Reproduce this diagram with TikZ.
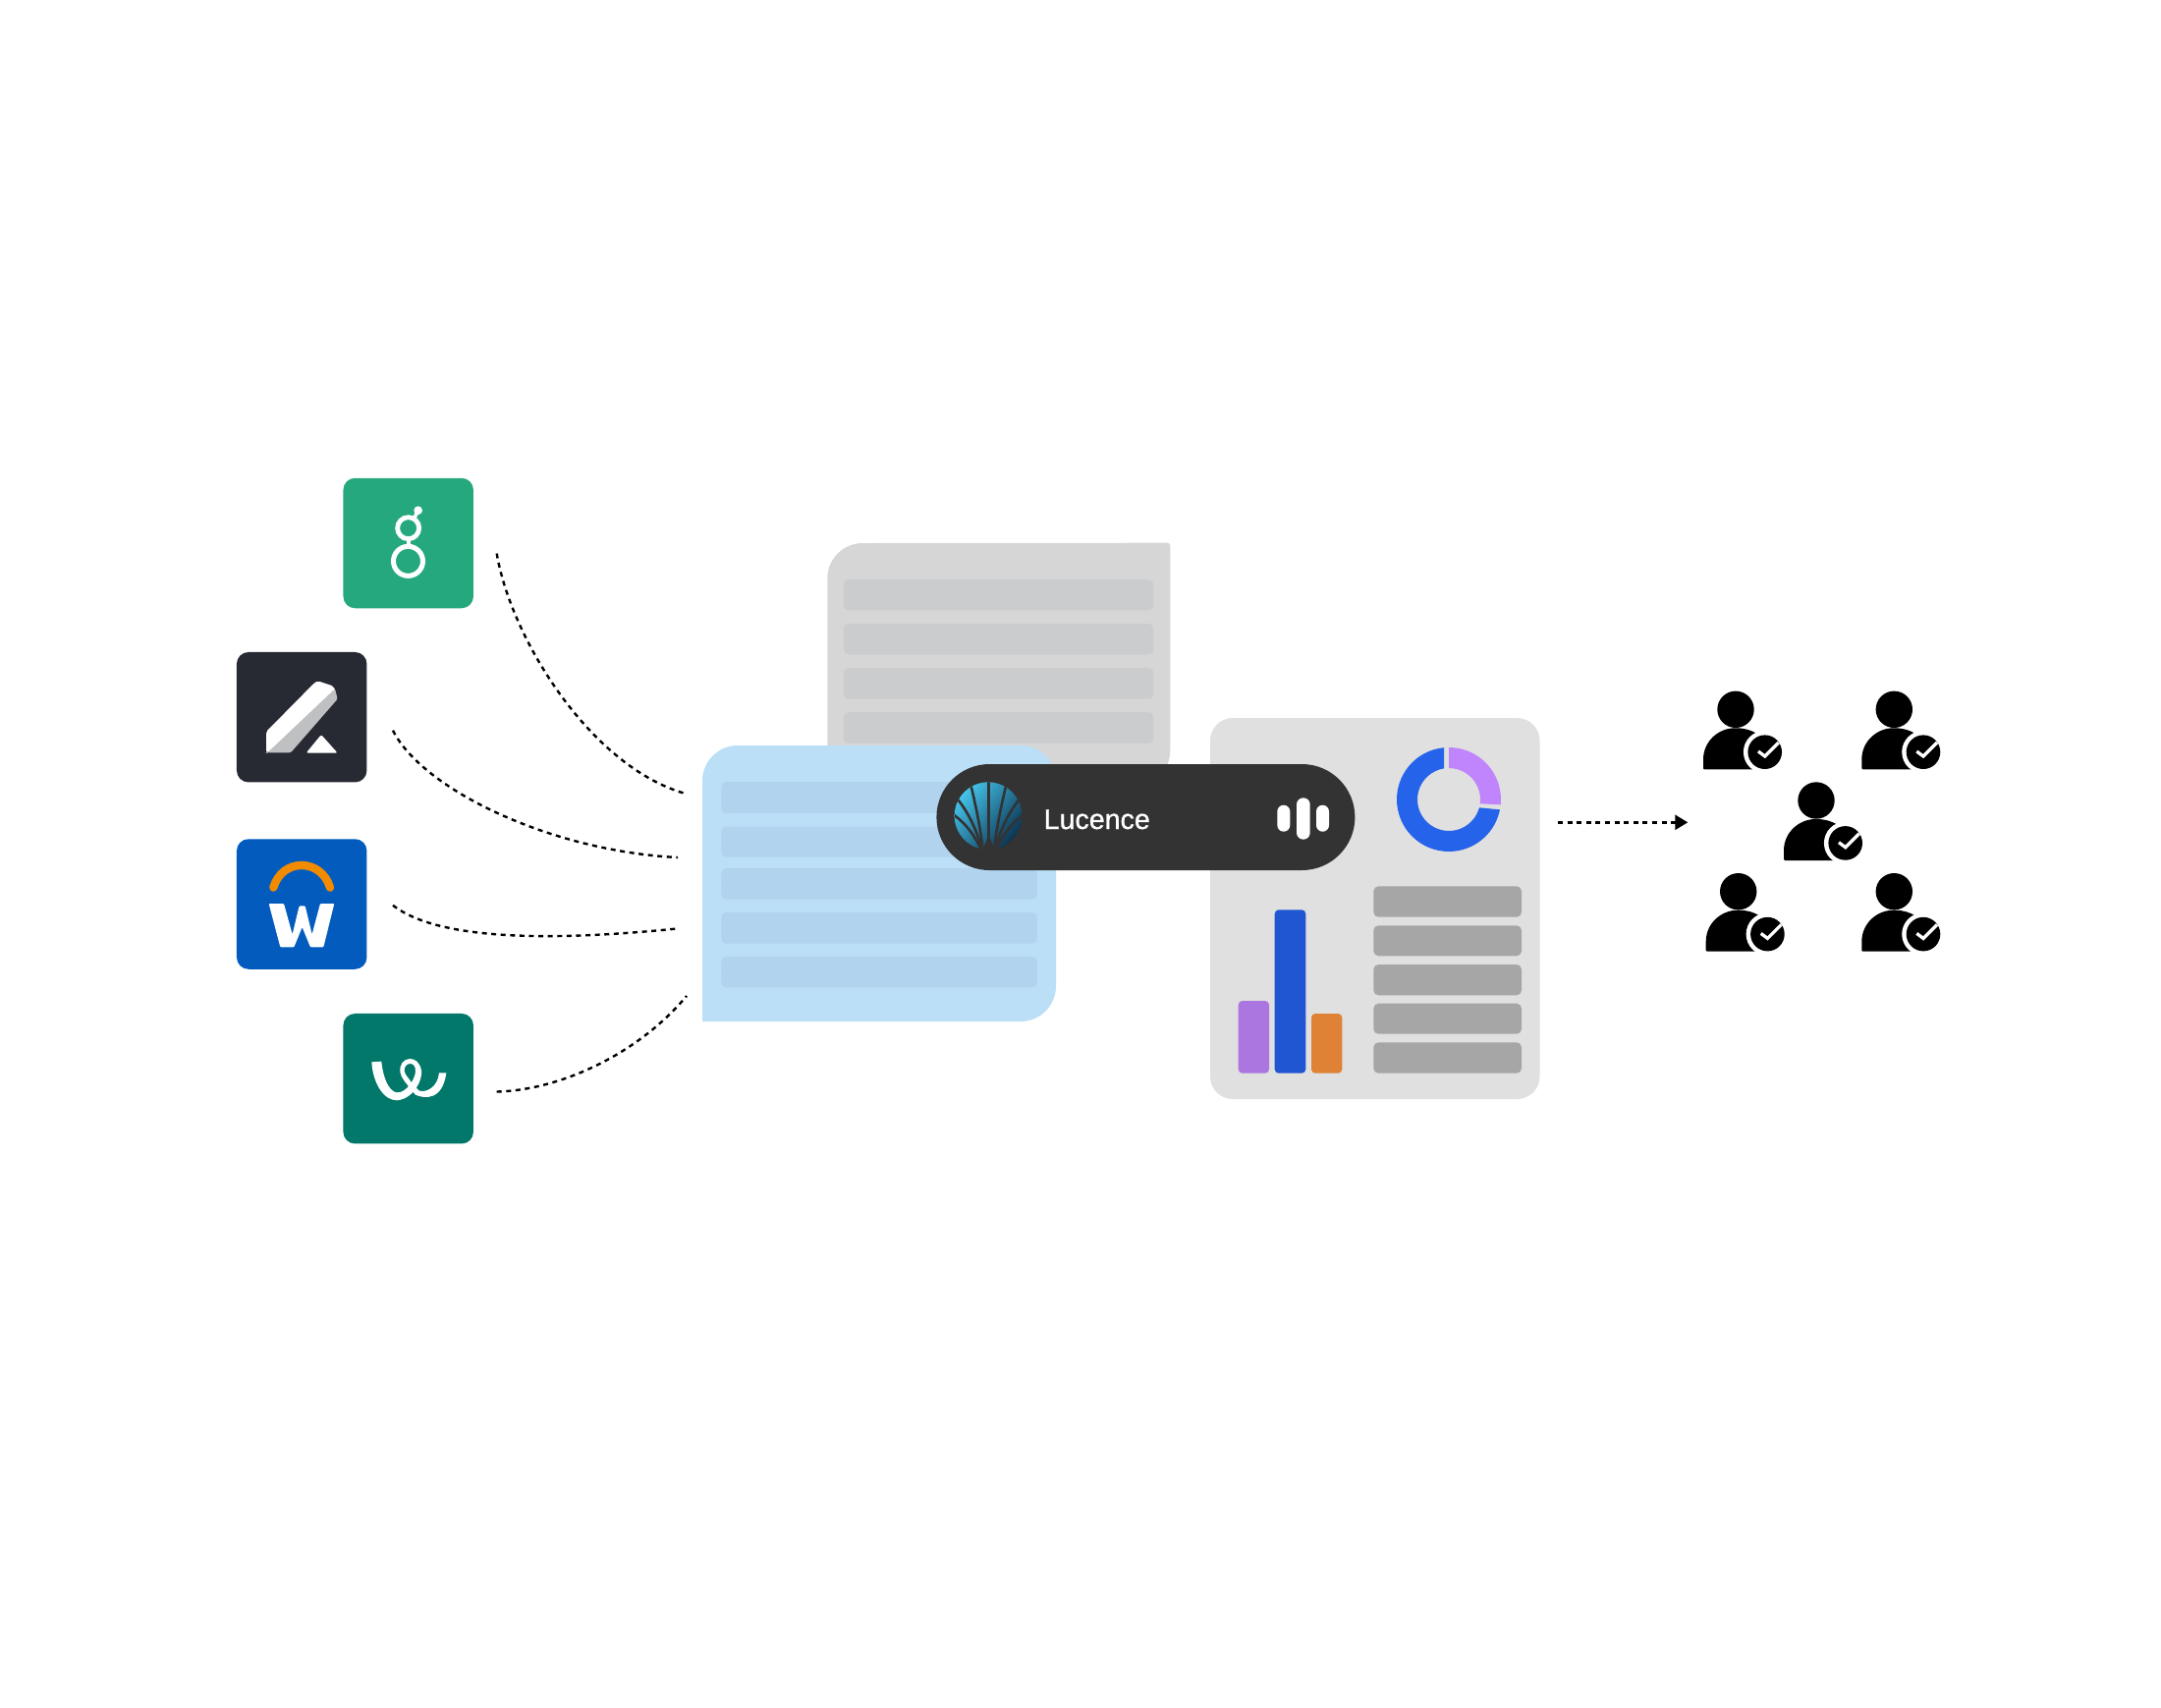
\documentclass[tikz,border=0pt]{standalone}
\usepackage{fontspec}
\setmainfont{Liberation Sans}
\newfontfamily\lucfont[FakeBold=0.9]{Liberation Sans}
\usetikzlibrary{arrows.meta}
\definecolor{cGreen}{HTML}{26A87E}
\definecolor{cInk}{HTML}{272933}
\definecolor{cBlue}{HTML}{035CBD}
\definecolor{cTeal}{HTML}{02786A}
\definecolor{cOrange}{HTML}{F38B00}
\definecolor{cGreySheet}{HTML}{D6D6D6}
\definecolor{cGreyRow}{HTML}{CBCCCE}
\definecolor{cSkySheet}{HTML}{BBDFF6}
\definecolor{cSkyRow}{HTML}{B1D3ED}
\definecolor{cPanel}{HTML}{E0E0E0}
\definecolor{cPanelRow}{HTML}{A6A6A6}
\definecolor{cPill}{HTML}{333333}
\definecolor{cBarP}{HTML}{AB76DF}
\definecolor{cBarB}{HTML}{2156D2}
\definecolor{cBarO}{HTML}{DF8235}
\definecolor{cDonutB}{HTML}{2563EB}
\definecolor{cDonutP}{HTML}{C084FC}
\definecolor{cPencil}{HTML}{BFC0C2}
\definecolor{cShellA}{HTML}{45C3EA}
\definecolor{cShellB}{HTML}{0B3350}
\tikzset{
  logobox/.style={rectangle,rounded corners=12pt,minimum width=132.5pt,minimum height=132.5pt,inner sep=0pt},
  rowbar/.style={rounded corners=5pt},
  flow/.style={line width=2.4pt,black,dash pattern=on 5pt off 4.6pt},
  zoomed/.style={x=0.3333pt,y=-0.3333pt},
}
\begin{document}
\begin{tikzpicture}[x=1pt,y=-1pt]
\useasboundingbox (0,0) rectangle (2200,1738);
\fill[white] (0,0) rectangle (2200,1738);

% logos
\node[logobox,fill=cGreen] (greenlogo) at (415.7,553) {};
\node[logobox,fill=cInk] (inklogo) at (307.2,730.2) {};
\node[logobox,fill=cBlue] (bluelogo) at (307.2,920.5) {};
\node[logobox,fill=cTeal] (teallogo) at (415.7,1098.2) {};

% g
\begin{scope}[xshift=349pt,yshift=-487pt,zoomed]
  \draw[white,line width=5pt] (199.5,253) circle (45);
  \draw[white,line width=4.8pt] (200,152) circle (33);
  \draw[white,line width=3.8pt] (200,180) -- (200,212);
  \draw[white,line width=3.6pt] (218,122) -- (230,98);
  \fill[white] (230,98) circle (13);
\end{scope}
% pencil
\begin{scope}[xshift=241pt,yshift=-664pt,zoomed]
  \fill[white,rounded corners=2pt] (90,243) -- (238,93) -- (248,88) -- (296,104) -- (303,125) -- (94,308) -- (90,307) -- cycle;
  \fill[cPencil,rounded corners=1.5pt] (300,112) -- (308,143) -- (165,307) -- (94,307) -- cycle;
  \fill[white,rounded corners=2pt] (212,308) -- (258,252) -- (308,308) -- cycle;
\end{scope}
% W
\begin{scope}[xshift=241pt,yshift=-854pt,zoomed]
  \draw[cOrange,line width=8.3pt,line cap=round] (112,149) .. controls (125,105) and (160,81) .. (198,81) .. controls (236,81) and (272,105) .. (285,149);
  \fill[white,rounded corners=1pt] (98,198) -- (144,198) -- (170,292) -- (191,205) -- (209,205) -- (230,292) -- (255,198) -- (298,198) -- (265,331) -- (225,331) -- (200,270) -- (175,331) -- (133,331) -- cycle;
\end{scope}
% teal ribbon
\begin{scope}[xshift=349pt,yshift=-1033pt,zoomed]
  \fill[white] (88,145) .. controls (92,210) and (125,262) .. (165,262)
    .. controls (215,258) and (245,200) .. (240,170)
    .. controls (235,145) and (220,135) .. (205,135)
    .. controls (185,135) and (172,155) .. (175,175)
    .. controls (178,195) and (195,210) .. (205,225)
    -- (222,245) .. controls (250,258) and (305,262) .. (316,178)
    -- (294,178) .. controls (290,222) and (255,240) .. (232,232)
    -- (208,205) .. controls (200,192) and (190,185) .. (188,172)
    .. controls (187,160) and (195,150) .. (205,150)
    .. controls (214,150) and (222,155) .. (222,172)
    .. controls (222,195) and (195,240) .. (165,238)
    .. controls (140,235) and (122,190) .. (118,143) -- cycle;
\end{scope}

% grey sheet
\fill[cGreySheet] (842.3,830) -- (842.3,589) arc[start angle=180,end angle=90,radius=36pt] -- (1188.3,552.7) arc[start angle=90,end angle=0,radius=3pt] -- (1191.3,764) arc[start angle=0,end angle=-90,radius=36pt] -- cycle;
\foreach \a/\b in {590/621.3,635/666.3,680/711.7,725/756.7}
  \fill[cGreyRow,rowbar] (858.9,\a) rectangle (1174.3,\b);

% blue sheet
\fill[cSkySheet] (715,1040) -- (715,795) arc[start angle=180,end angle=90,radius=36pt] -- (1039,759) arc[start angle=90,end angle=0,radius=36pt] -- (1075,1004) arc[start angle=0,end angle=-90,radius=36pt] -- cycle;
\foreach \a/\b in {796/828,841.7/872.7,884/915.7,929/960.7,974/1005.3}
  \fill[cSkyRow,rowbar] (734.4,\a) rectangle (1055.8,\b);

% dashboard panel
\fill[cPanel,rounded corners=23pt] (1232,731) rectangle (1567.5,1119);
\foreach \a/\b in {902.3/933.7,942.3/973.3,982/1013.3,1021.7/1052.7,1061.3/1092.7}
  \fill[cPanelRow,rowbar] (1398.3,\a) rectangle (1549,\b);
\fill[cBarP,rounded corners=4pt] (1260.7,1019) rectangle (1292,1092.7);
\fill[cBarB,rounded corners=4pt] (1297.7,926.3) rectangle (1329.3,1092.7);
\fill[cBarO,rounded corners=4pt] (1335,1032) rectangle (1366.3,1092.7);
% donut
\fill[cDonutP] (1475,761) arc[start angle=90,end angle=-5.7,radius=53pt] -- (1506.7,818.3) arc[start angle=-7.7,end angle=90,radius=32pt] -- cycle;
\fill[cDonutB] (1470,761.2) arc[start angle=95.4,end angle=348.7,radius=53pt] -- (1505.9,822.3) arc[start angle=344.9,end angle=99,radius=32pt] -- cycle;

% pill
\fill[cPill,rounded corners=54pt] (953.4,778) rectangle (1379.4,886);
\begin{scope}[xshift=950pt,yshift=-770pt,zoomed]
  \begin{scope}
    \clip (168,182) circle (103);
    \shade[top color=cShellA,bottom color=cShellB,shading angle=50] (65,78) rectangle (272,286);
    \draw[cPill,line width=2.6pt] (170,290) -- (170,70);
    \draw[cPill,line width=2.6pt] (152,285) .. controls (143,210) and (130,150) .. (112,75);
    \draw[cPill,line width=2.6pt] (150,285) .. controls (130,220) and (110,175) .. (70,125);
    \draw[cPill,line width=2.6pt] (148,288) .. controls (125,240) and (105,210) .. (58,175);
    \draw[cPill,line width=2.6pt] (186,285) .. controls (195,210) and (208,150) .. (226,75);
    \draw[cPill,line width=2.6pt] (188,285) .. controls (208,220) and (228,175) .. (268,125);
    \draw[cPill,line width=2.6pt] (190,288) .. controls (213,240) and (233,210) .. (280,175);
    \fill[cPill] (148,292) -- (170,240) -- (190,292) -- cycle;
  \end{scope}
\end{scope}
\node[anchor=base west,inner sep=0pt,text=white,font=\lucfont\fontsize{28.6}{28.6}\selectfont] (lucence) at (1062.5,844) {Lucence};
\fill[white,rounded corners=6.5pt] (1300.3,819.7) rectangle (1313.3,846.7);
\fill[white,rounded corners=6.8pt] (1320,812.3) rectangle (1333.7,854.7);
\fill[white,rounded corners=6.5pt] (1340,819.7) rectangle (1353,846.7);

% connectors
\coordinate (a1) at (505.7,563.5); \coordinate (b1) at (696,807.5);
\coordinate (a2) at (400,743.7);   \coordinate (b2) at (690,873);
\coordinate (a3) at (400,921.7);   \coordinate (b3) at (689,945.5);
\coordinate (a4) at (505.7,1111.5);\coordinate (b4) at (699,1014);
\coordinate (a5) at (1586,837.3);  \coordinate (b5) at (1718.3,837.3);
\draw[flow] (a1) .. controls (520,649) and (600,779) .. (b1);
\draw[flow] (a2) .. controls (430,803.5) and (560,866.5) .. (b2);
\draw[flow] (a3) .. controls (450,960.7) and (580,956.5) .. (b3);
\draw[flow] (a4) .. controls (570,1110) and (650,1073) .. (b4);
\draw[flow,-{Triangle[length=13pt,width=15pt]}] (a5) -- (b5);

% people
\foreach \px/\py in {1767/722.3,1928.3/722.3,1849/815,1769.7/907.7,1928.3/907.7}{
  \begin{scope}[shift={(\px,\py)}]
    \fill[black] (0,0) circle (18.7);
    \fill[black,rounded corners=1pt] (-33,61) -- (-33,52) .. controls (-33,32) and (-17,19) .. (0,19) .. controls (17,19) and (30,28) .. (33,40) -- (33,61) -- cycle;
    \fill[white] (29.7,43.4) circle (21.8);
    \fill[black] (29.7,43.4) circle (17.3);
    \draw[white,line width=3.3pt] (23,42.7) -- (29.7,47.7) -- (43.7,33.7);
  \end{scope}
}
\end{tikzpicture}
\end{document}
